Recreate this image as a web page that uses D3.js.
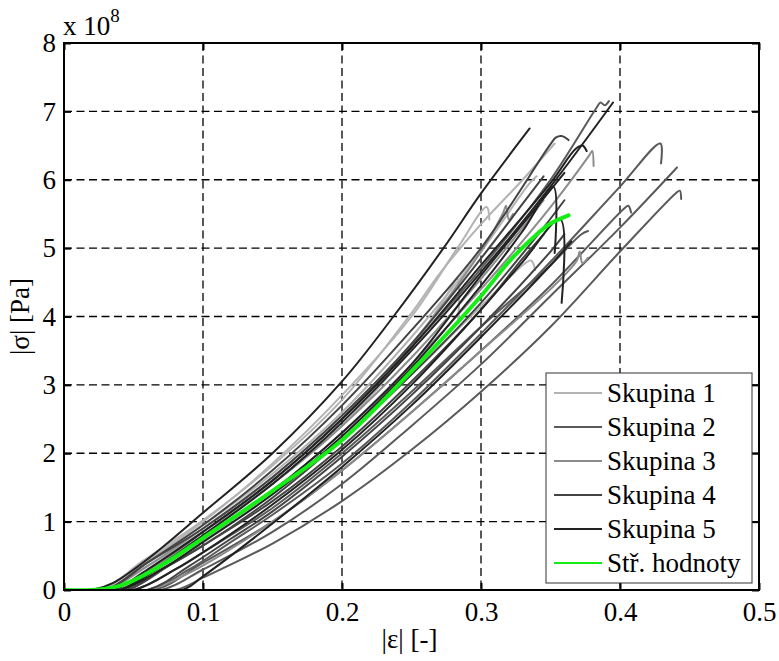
<!DOCTYPE html>
<html>
<head>
<meta charset="utf-8">
<script src="https://cdn.jsdelivr.net/npm/d3@7"></script>
<style>
  body { margin: 0; background: #fff; }
  svg { display: block; }
</style>
</head>
<body>
<svg id="chart" width="779" height="661"></svg>
<script>
// Compression tests: |strain| [-] against |stress| in units of 1e8 Pa.
const xTicks = [0, 0.1, 0.2, 0.3, 0.4, 0.5];
const xTickLabels = ["0", "0.1", "0.2", "0.3", "0.4", "0.5"];
const yTicks = [0, 1, 2, 3, 4, 5, 6, 7, 8];
const yTickLabels = ["0", "1", "2", "3", "4", "5", "6", "7", "8"];
const legendLabels = ["Skupina 1", "Skupina 2", "Skupina 3", "Skupina 4", "Skupina 5", "Stř. hodnoty"];

// Skupina 1 specimens: [strain, stress]
const skupina1 = [
  [[0,0],[0.025,0],[0.05,0.3],[0.1,1.0],[0.15,1.85],[0.2,2.85],[0.25,4.0],[0.283,5.0],[0.304,5.6],[0.306,5.42]],
  [[0,0],[0.028,0],[0.055,0.4],[0.1,1.02],[0.15,1.82],[0.2,2.78],[0.25,4.05],[0.27,4.62],[0.3,5.35],[0.33,6.0],[0.353,6.53]],
  [[0,0],[0.03,0],[0.06,0.35],[0.1,0.85],[0.15,1.55],[0.2,2.4],[0.25,3.55],[0.275,4.3],[0.283,4.55],[0.2835,3.9]],
  [[0,0],[0.035,0],[0.06,0.25],[0.1,0.72],[0.15,1.4],[0.2,2.2],[0.25,3.15],[0.3,4.15],[0.33,4.75],[0.336,4.82],[0.339,4.68]],
  [[0,0],[0.03,0],[0.055,0.35],[0.1,0.95],[0.15,1.7],[0.2,2.6],[0.25,3.7],[0.3,4.95],[0.335,5.95],[0.34,6.05]]
];
// Skupina 2 specimens
const skupina2 = [
  [[0,0],[0.06,0],[0.09,0.3],[0.12,0.7],[0.15,1.1],[0.2,1.85],[0.25,2.75],[0.3,3.75],[0.35,4.8],[0.4,5.9],[0.429,6.53],[0.4295,6.24]],
  [[0,0],[0.08,0],[0.1,0.18],[0.15,0.68],[0.2,1.3],[0.25,2.05],[0.3,2.9],[0.35,3.85],[0.4,4.95],[0.44,5.8],[0.443,5.84],[0.444,5.72]],
  [[0,0],[0.07,0],[0.1,0.3],[0.15,0.85],[0.2,1.55],[0.25,2.4],[0.3,3.3],[0.35,4.3],[0.4,5.3],[0.441,6.18]],
  [[0,0],[0.065,0],[0.1,0.4],[0.15,1.0],[0.2,1.75],[0.25,2.6],[0.3,3.5],[0.35,4.45],[0.403,5.58],[0.406,5.62],[0.408,5.52]],
  [[0,0],[0.035,0],[0.065,0.35],[0.1,0.85],[0.15,1.6],[0.2,2.5],[0.25,3.55],[0.3,4.7],[0.35,6.0],[0.383,7.05],[0.386,7.13],[0.389,7.09],[0.392,7.15]],
  [[0,0],[0.05,0],[0.08,0.3],[0.1,0.55],[0.15,1.2],[0.2,2.0],[0.25,2.9],[0.3,3.85],[0.35,4.75],[0.372,5.2],[0.377,5.25]]
];
// Skupina 3 specimens
const skupina3 = [
  [[0,0],[0.04,0],[0.07,0.35],[0.1,0.75],[0.15,1.45],[0.2,2.3],[0.25,3.3],[0.3,4.4],[0.35,5.6],[0.378,6.36],[0.38,6.42],[0.381,6.2]],
  [[0,0],[0.03,0],[0.06,0.35],[0.1,0.9],[0.15,1.65],[0.2,2.55],[0.25,3.6],[0.3,4.95],[0.316,5.52],[0.318,5.62],[0.32,5.42],[0.323,5.5]],
  [[0,0],[0.06,0],[0.09,0.25],[0.12,0.6],[0.15,1.0],[0.2,1.75],[0.25,2.6],[0.3,3.5],[0.35,4.4],[0.369,4.82],[0.371,4.95],[0.373,4.78],[0.377,4.86]],
  [[0,0],[0.04,0],[0.07,0.4],[0.1,0.8],[0.15,1.55],[0.2,2.4],[0.25,3.4],[0.3,4.55],[0.33,5.3],[0.345,5.7]]
];
// Skupina 4 specimens
const skupina4 = [
  [[0,0],[0.03,0],[0.06,0.4],[0.1,0.95],[0.15,1.75],[0.2,2.7],[0.25,3.8],[0.3,5.0],[0.35,6.52],[0.354,6.62],[0.358,6.64],[0.363,6.58]],
  [[0,0],[0.06,0],[0.09,0.35],[0.12,0.75],[0.15,1.15],[0.2,1.95],[0.25,2.85],[0.3,3.85],[0.35,4.95],[0.36,5.2]],
  [[0,0],[0.045,0],[0.07,0.3],[0.1,0.65],[0.15,1.35],[0.2,2.2],[0.25,3.15],[0.3,4.2],[0.345,5.3],[0.36,5.7]],
  [[0,0],[0.03,0],[0.06,0.4],[0.1,0.9],[0.15,1.65],[0.2,2.55],[0.25,3.6],[0.3,4.85],[0.33,5.65],[0.345,6.05]],
  [[0,0],[0.045,0],[0.075,0.35],[0.1,0.65],[0.15,1.3],[0.2,2.1],[0.25,3.05],[0.3,4.1],[0.33,4.85],[0.345,5.2]]
];
// Skupina 5 specimens
const skupina5 = [
  [[0,0],[0.02,0],[0.035,0.1],[0.06,0.45],[0.1,1.13],[0.15,2.0],[0.2,3.05],[0.237,4.0],[0.273,5.0],[0.3,5.8],[0.335,6.75]],
  [[0,0],[0.04,0],[0.07,0.3],[0.1,0.7],[0.15,1.4],[0.2,2.25],[0.25,3.25],[0.3,4.45],[0.33,5.25],[0.352,5.9],[0.353,4.93]],
  [[0,0],[0.05,0],[0.08,0.3],[0.1,0.55],[0.15,1.25],[0.2,2.05],[0.25,3.0],[0.3,4.1],[0.33,4.8],[0.357,5.42],[0.358,4.2]],
  [[0,0],[0.035,0],[0.06,0.3],[0.1,0.85],[0.15,1.6],[0.2,2.5],[0.25,3.55],[0.3,4.75],[0.35,5.95],[0.368,6.45],[0.373,6.5],[0.376,6.42]],
  [[0,0],[0.04,0],[0.065,0.3],[0.1,0.8],[0.15,1.55],[0.2,2.45],[0.25,3.5],[0.3,4.65],[0.35,5.9],[0.395,7.13]],
  [[0,0],[0.085,0],[0.1,0.2],[0.141,0.83],[0.2,1.8],[0.25,2.7],[0.3,3.7],[0.35,4.75],[0.365,5.1]],
  [[0,0],[0.04,0],[0.07,0.35],[0.1,0.75],[0.15,1.45],[0.2,2.3],[0.25,3.3],[0.3,4.6],[0.34,5.6],[0.36,6.1]]
];
// Mean response of all specimens
const meanCurve = [[0,0],[0.02,0],[0.03,0.02],[0.04,0.06],[0.05,0.14],[0.075,0.42],[0.1,0.76],[0.15,1.45],[0.2,2.19],[0.25,3.2],[0.3,4.3],[0.32,4.8],[0.34,5.2],[0.35,5.36],[0.363,5.48]];

const groups = [skupina1, skupina2, skupina3, skupina4, skupina5];
const groupColors = ["#b3b3b3", "#5a5a5a", "#8c8c8c", "#444444", "#222222"];
const meanColor = "#14ee14";

const plot = { left: 64, top: 43, right: 759, bottom: 590 };
const FONT = 27;

// pick the first serif face the system actually has, by comparing glyph widths
function pickSerif() {
  const candidates = ["Liberation Serif", "Tinos", "Times New Roman", "Times", "Nimbus Roman", "Nimbus Roman No9 L",
                      "DejaVu Serif", "Noto Serif", "FreeSerif", "Noto Serif CJK SC", "Georgia"];
  const ctx = document.createElement("canvas").getContext("2d");
  const probe = "Skupina hodnoty 0.1234567 mmmwwwiiilll";
  const widthOf = f => { ctx.font = "40px " + f; return ctx.measureText(probe).width; };
  const baseMono = widthOf("monospace"), baseSans = widthOf("sans-serif");
  for (const c of candidates) {
    if (widthOf(`"${c}", monospace`) !== baseMono || widthOf(`"${c}", sans-serif`) !== baseSans) return `"${c}", serif`;
  }
  return "serif";
}
const SERIF = pickSerif();

const svg = d3.select("#chart");

const x = d3.scaleLinear().domain([0, 0.5]).range([plot.left, plot.right]);
const y = d3.scaleLinear().domain([0, 8]).range([plot.bottom, plot.top]);

// dashed grid
const grid = svg.append("g").attr("stroke", "#000").attr("stroke-width", 1.3).attr("stroke-dasharray", "8,4.5");
grid.selectAll("line.gx").data(xTicks.slice(1, -1)).join("line")
  .attr("x1", d => x(d)).attr("x2", d => x(d)).attr("y1", plot.top).attr("y2", plot.bottom);
grid.selectAll("line.gy").data(yTicks.slice(1, -1)).join("line")
  .attr("y1", d => y(d)).attr("y2", d => y(d)).attr("x1", plot.left).attr("x2", plot.right);

// specimen curves
svg.append("clipPath").attr("id", "clip").append("rect")
  .attr("x", plot.left).attr("y", plot.top).attr("width", plot.right - plot.left).attr("height", plot.bottom - plot.top);
const line = d3.line().x(d => x(d[0])).y(d => y(d[1])).curve(d3.curveCatmullRom.alpha(0.5));
const curves = svg.append("g").attr("clip-path", "url(#clip)").attr("fill", "none")
  .attr("stroke-linejoin", "round").attr("stroke-linecap", "round");
groups.forEach((g, gi) => {
  curves.append("g").attr("stroke", groupColors[gi]).attr("stroke-width", 2)
    .selectAll("path").data(g).join("path").attr("d", line);
});
curves.append("path").datum(meanCurve).attr("d", line).attr("stroke", meanColor).attr("stroke-width", 4);

// axes with inward ticks on all four sides
const axB = svg.append("g").attr("transform", `translate(0,${plot.bottom})`)
  .call(d3.axisBottom(x).tickValues(xTicks).tickFormat((d, i) => xTickLabels[i]).tickSize(-7).tickPadding(12));
const axL = svg.append("g").attr("transform", `translate(${plot.left},0)`)
  .call(d3.axisLeft(y).tickValues(yTicks).tickFormat((d, i) => yTickLabels[i]).tickSize(-7).tickPadding(8));
const axT = svg.append("g").attr("transform", `translate(0,${plot.top})`)
  .call(d3.axisTop(x).tickValues(xTicks).tickFormat("").tickSize(-7));
const axR = svg.append("g").attr("transform", `translate(${plot.right},0)`)
  .call(d3.axisRight(y).tickValues(yTicks).tickFormat("").tickSize(-7));
[axB, axL, axT, axR].forEach(a => {
  a.attr("font-family", null).attr("font-size", null);
  a.select(".domain").remove();
  a.selectAll(".tick line").attr("stroke", "#000").attr("stroke-width", 2);
  a.selectAll("text").attr("fill", "#000");
});

svg.append("rect").attr("x", plot.left).attr("y", plot.top)
  .attr("width", plot.right - plot.left).attr("height", plot.bottom - plot.top)
  .attr("fill", "none").attr("stroke", "#000").attr("stroke-width", 2);

// exponent label
const expo = svg.append("text").attr("x", 63).attr("y", 35);
expo.append("tspan").text("x 10");
expo.append("tspan").attr("dy", -13).attr("class", "sup").text("8");

// axis titles
svg.append("text").attr("x", (plot.left + plot.right) / 2 - 2).attr("y", 648)
  .attr("text-anchor", "middle").text("|ε| [-]");
svg.append("text").attr("transform", `translate(29,${(plot.top + plot.bottom) / 2}) rotate(-90)`)
  .attr("text-anchor", "middle").text("|σ| [Pa]");

// legend
const lg = svg.append("g");
lg.append("rect").attr("x", 546).attr("y", 373).attr("width", 206).attr("height", 210)
  .attr("fill", "#fff").attr("stroke", "#333").attr("stroke-width", 1);
const legendColors = groupColors.concat([meanColor]);
legendLabels.forEach((name, i) => {
  const yy = 393 + i * 34;
  lg.append("line").attr("x1", 554).attr("x2", 602).attr("y1", yy).attr("y2", yy)
    .attr("stroke", legendColors[i]).attr("stroke-width", 2);
  lg.append("text").attr("x", 607).attr("y", yy + 9).text(name);
});

// serif typeface on every label
svg.selectAll("text").style("font-family", SERIF).attr("font-size", FONT);
svg.selectAll("tspan.sup").attr("font-size", 19);
</script>
</body>
</html>
